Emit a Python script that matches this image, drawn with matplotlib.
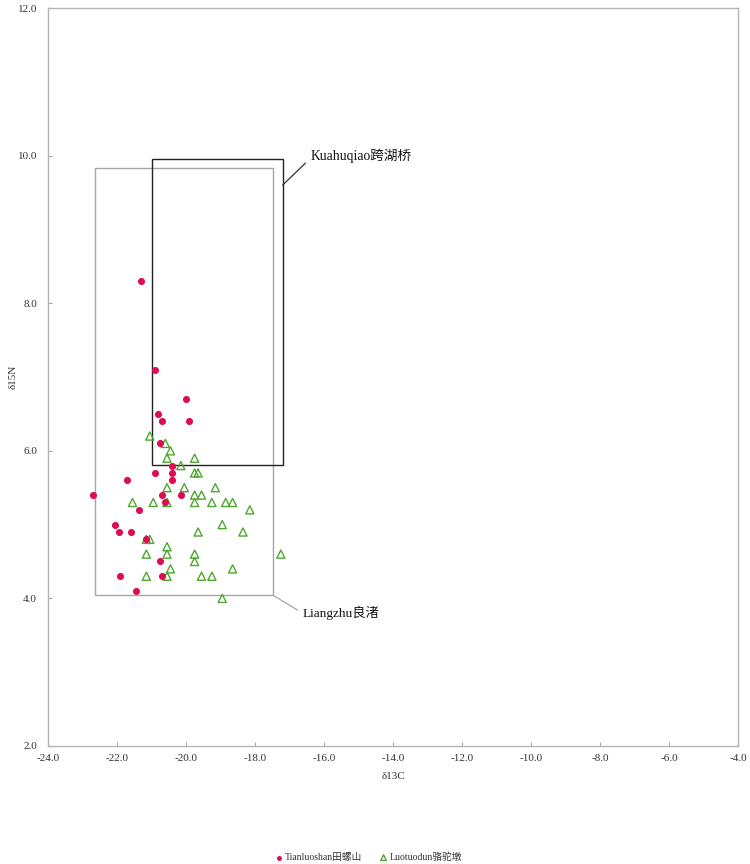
import matplotlib
matplotlib.use('Agg')
import matplotlib.pyplot as plt
from matplotlib.patches import Rectangle

plt.rcParams['font.family'] = ['Liberation Serif', 'Noto Sans CJK SC']

# Tianluoshan 田螺山 (d13C, d15N)
tls_c = [-21.3, -20.9, -20.0, -20.8, -20.7, -19.9, -20.75, -20.4, -20.9, -20.4,
         -21.7, -20.4, -22.7, -20.7, -20.15, -20.6, -21.35, -22.05, -21.95, -21.6,
         -21.15, -20.75, -21.9, -20.7, -21.45]
tls_n = [8.3, 7.1, 6.7, 6.5, 6.4, 6.4, 6.1, 5.8, 5.7, 5.7,
         5.6, 5.6, 5.4, 5.4, 5.4, 5.3, 5.2, 5.0, 4.9, 4.9,
         4.8, 4.5, 4.3, 4.3, 4.1]

# Luotuodun 骆驼墩
ltd_c = [-21.05, -20.6, -20.45, -20.55, -19.75, -20.15, -19.75, -19.65, -20.55, -20.05,
         -19.15, -19.75, -19.55, -21.55, -20.95, -20.55, -19.75, -19.25, -18.85, -18.65,
         -18.15, -18.95, -19.65, -18.35, -21.15, -21.05, -20.55, -21.15, -20.55, -19.75,
         -17.25, -19.75, -20.45, -18.65, -21.15, -20.55, -19.55, -19.25, -18.95]
ltd_n = [6.2, 6.1, 6.0, 5.9, 5.9, 5.8, 5.7, 5.7, 5.5, 5.5,
         5.5, 5.4, 5.4, 5.3, 5.3, 5.3, 5.3, 5.3, 5.3, 5.3,
         5.2, 5.0, 4.9, 4.9, 4.8, 4.8, 4.7, 4.6, 4.6, 4.6,
         4.6, 4.5, 4.4, 4.4, 4.3, 4.3, 4.3, 4.3, 4.0]

# reference ranges (x_min, x_max, y_min, y_max)
kuahuqiao = (-21.0, -17.2, 5.81, 9.95)
liangzhu = (-22.65, -17.47, 4.04, 9.83)

fig = plt.figure(figsize=(7.5, 8.64), dpi=100)
ax = fig.add_axes([0.064, 0.1366, 0.92, 0.8541])

ax.scatter(ltd_c, ltd_n, marker='^', s=34, facecolors='none',
           edgecolors='#4ea72e', linewidths=1.0, zorder=3, label='Luotuodun骆驼墩')
ax.scatter(tls_c, tls_n, marker='o', s=26, color='#dc0d55', linewidths=0,
           zorder=4, label='Tianluoshan田螺山')

x0, x1, y0, y1 = liangzhu
ax.add_patch(Rectangle((x0, y0), x1 - x0, y1 - y0, fill=False,
                       edgecolor='#a6a6a6', lw=1.0, zorder=2))
ax.annotate('Liangzhu良渚', xy=(x1, y0), xytext=(x1 + 0.85, y0 - 0.24),
            ha='left', va='center', fontsize=9.5, color='#111111',
            arrowprops=dict(arrowstyle='-', color='#a6a6a6', lw=0.9,
                            shrinkA=2, shrinkB=0, relpos=(0, 0.5)))

x0, x1, y0, y1 = kuahuqiao
ax.add_patch(Rectangle((x0, y0), x1 - x0, y1 - y0, fill=False,
                       edgecolor='#222222', lw=1.0, zorder=2))
ax.annotate('Kuahuqiao跨湖桥', xy=(x1, 9.6), xytext=(x1 + 0.8, 10.0),
            ha='left', va='center', fontsize=9.8, color='#111111',
            arrowprops=dict(arrowstyle='-', color='#333333', lw=0.9,
                            shrinkA=2, shrinkB=0, relpos=(0, 0.3)))

ax.set_xlim(-24, -4)
ax.set_ylim(2, 12)
ax.set_xticks(range(-24, -3, 2))
ax.set_yticks(range(2, 13, 2))
ax.xaxis.set_major_formatter(matplotlib.ticker.FormatStrFormatter('%.1f'))
ax.yaxis.set_major_formatter(matplotlib.ticker.FormatStrFormatter('%.1f'))
ax.tick_params(direction='in', length=3, color='#a6a6a6', labelsize=8,
               labelcolor='#333333')
ax.tick_params(axis='y', pad=8)
ax.tick_params(axis='x', pad=6)
for s in ax.spines.values():
    s.set_color('#b3b3b3')
    s.set_linewidth(1.0)

ax.set_xlabel('δ13C', fontsize=8, color='#333333', labelpad=6)
ax.set_ylabel('δ15N', fontsize=8, color='#333333')
ax.yaxis.set_label_coords(-0.044, 0.5)

h, l = ax.get_legend_handles_labels()
fig.legend(h[::-1], l[::-1], loc='lower center', bbox_to_anchor=(0.49, -0.008),
           ncol=2, frameon=False, fontsize=7, handletextpad=0.0,
           columnspacing=1.6, markerscale=0.7, labelcolor='#333333',
           handlelength=1.2)

plt.savefig('out.png', dpi=100)
